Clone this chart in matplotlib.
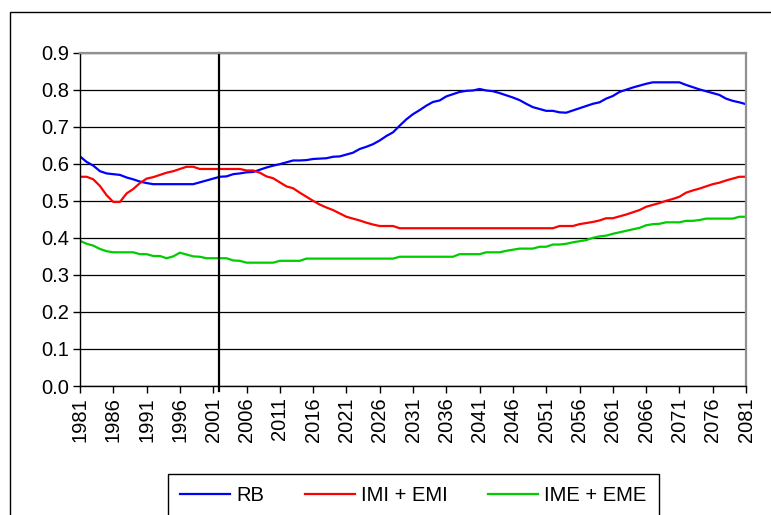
#!/usr/bin/env python3
"""RB / IMI+EMI / IME+EME 1981-2081 折线图。"""
import matplotlib
matplotlib.use('Agg')
matplotlib.rcParams['font.family'] = ['Liberation Sans', 'DejaVu Sans']
matplotlib.rcParams['axes.unicode_minus'] = False
import matplotlib.pyplot as plt  # noqa: E402
from matplotlib.patches import Rectangle  # noqa: E402

years = list(range(1981, 2082))
tick_years = list(range(1981, 2082, 5))
marker_year = 2001.8

rb = [
    0.620, 0.605, 0.595, 0.580, 0.574, 0.572, 0.570, 0.563, 0.558, 0.552,  # 1981-1990
    0.548, 0.545, 0.545, 0.545, 0.545, 0.545, 0.545, 0.545, 0.550, 0.555,  # 1991-2000
    0.560, 0.565, 0.566, 0.572, 0.574, 0.577, 0.578, 0.584, 0.590, 0.595,  # 2001-2010
    0.599, 0.604, 0.609, 0.609, 0.610, 0.613, 0.614, 0.615, 0.619, 0.620,  # 2011-2020
    0.625, 0.630, 0.640, 0.646, 0.653, 0.663, 0.675, 0.685, 0.703, 0.720,  # 2021-2030
    0.734, 0.745, 0.757, 0.767, 0.771, 0.782, 0.788, 0.794, 0.797, 0.798,  # 2031-2040
    0.802, 0.798, 0.796, 0.791, 0.785, 0.779, 0.772, 0.762, 0.753, 0.748,  # 2041-2050
    0.743, 0.743, 0.739, 0.738, 0.744, 0.750, 0.756, 0.762, 0.766, 0.776,  # 2051-2060
    0.783, 0.794, 0.800, 0.806, 0.811, 0.816, 0.820, 0.820, 0.820, 0.820,  # 2061-2070
    0.820, 0.813, 0.807, 0.801, 0.796, 0.791, 0.786, 0.776, 0.770, 0.766,  # 2071-2080
    0.761,
]
imi_emi = [
    0.565, 0.565, 0.558, 0.540, 0.515, 0.497, 0.497, 0.520, 0.532, 0.548,
    0.560, 0.564, 0.570, 0.576, 0.580, 0.586, 0.592, 0.592, 0.586, 0.586,
    0.586, 0.586, 0.586, 0.586, 0.586, 0.582, 0.582, 0.576, 0.566, 0.561,
    0.550, 0.539, 0.534, 0.522, 0.511, 0.500, 0.490, 0.482, 0.475, 0.466,
    0.457, 0.452, 0.447, 0.441, 0.436, 0.432, 0.432, 0.432, 0.426, 0.426,
    0.426, 0.426, 0.426, 0.426, 0.426, 0.426, 0.426, 0.426, 0.426, 0.426,
    0.426, 0.426, 0.426, 0.426, 0.426, 0.426, 0.426, 0.426, 0.426, 0.426,
    0.426, 0.426, 0.432, 0.432, 0.432, 0.437, 0.440, 0.443, 0.447, 0.453,
    0.453, 0.458, 0.463, 0.469, 0.475, 0.484, 0.489, 0.494, 0.500, 0.505,
    0.511, 0.522, 0.528, 0.533, 0.539, 0.545, 0.549, 0.555, 0.560, 0.565,
    0.565,
]
ime_eme = [
    0.392, 0.384, 0.379, 0.370, 0.364, 0.361, 0.361, 0.361, 0.361, 0.356,
    0.356, 0.351, 0.351, 0.345, 0.350, 0.360, 0.355, 0.350, 0.349, 0.345,
    0.345, 0.345, 0.345, 0.339, 0.338, 0.333, 0.333, 0.333, 0.333, 0.333,
    0.338, 0.338, 0.338, 0.338, 0.344, 0.344, 0.344, 0.344, 0.344, 0.344,
    0.344, 0.344, 0.344, 0.344, 0.344, 0.344, 0.344, 0.344, 0.349, 0.349,
    0.349, 0.349, 0.349, 0.349, 0.349, 0.349, 0.349, 0.356, 0.356, 0.356,
    0.356, 0.361, 0.361, 0.361, 0.365, 0.368, 0.371, 0.371, 0.371, 0.376,
    0.376, 0.382, 0.382, 0.384, 0.388, 0.391, 0.394, 0.400, 0.404, 0.406,
    0.411, 0.415, 0.419, 0.423, 0.427, 0.434, 0.437, 0.438, 0.442, 0.442,
    0.442, 0.446, 0.446, 0.448, 0.452, 0.452, 0.452, 0.452, 0.452, 0.457,
    0.457,
]

W, H = 771, 515
fig = plt.figure(figsize=(W / 100, H / 100), dpi=100)
ax = fig.add_axes([80 / W, 1 - 386 / H, 666 / W, (386 - 52.7) / H])

ax.plot(years, rb, color='#0000FF', lw=1.6, label='RB')
ax.plot(years, imi_emi, color='#FF0000', lw=1.6, label='IMI + EMI')
ax.plot(years, ime_eme, color='#00CC00', lw=1.6, label='IME + EME')
ax.axvline(marker_year, ymin=-0.015, ymax=1, color='black', lw=1.6, clip_on=False)

ax.set_xlim(1981, 2081)
ax.set_ylim(0, 0.9)
ax.set_yticks([i / 10 for i in range(10)])
ax.set_yticklabels([f'{i / 10:.1f}' for i in range(10)])
ax.set_xticks(tick_years)
ax.set_xticklabels([str(y) for y in tick_years], rotation=90)
ax.tick_params(axis='both', direction='out', length=5, width=1, labelsize=14.5, pad=3)
ax.grid(True, axis='y', color='black', lw=0.9)
ax.set_axisbelow(True)
for side in ('top', 'right'):
    ax.spines[side].set_color('#909090')
    ax.spines[side].set_linewidth(1.6)
for side in ('left', 'bottom'):
    ax.spines[side].set_color('black')
    ax.spines[side].set_linewidth(1)

leg = fig.legend(loc='upper left', bbox_to_anchor=(168 / W, 1 - 474 / H), ncol=3,
                 fontsize=14.5, handlelength=2.5, handletextpad=0.3, columnspacing=2.0,
                 borderpad=0.6, borderaxespad=0, fancybox=False, framealpha=1)
leg.get_frame().set_edgecolor('black')
leg.get_frame().set_linewidth(1)

# 外框（右侧和底部超出画面）
fig.add_artist(Rectangle((10 / W, -0.1), 2, 1 - 12 / H + 0.1, transform=fig.transFigure,
                         fill=False, edgecolor='black', lw=1))

fig.savefig('out.png', dpi=100)
